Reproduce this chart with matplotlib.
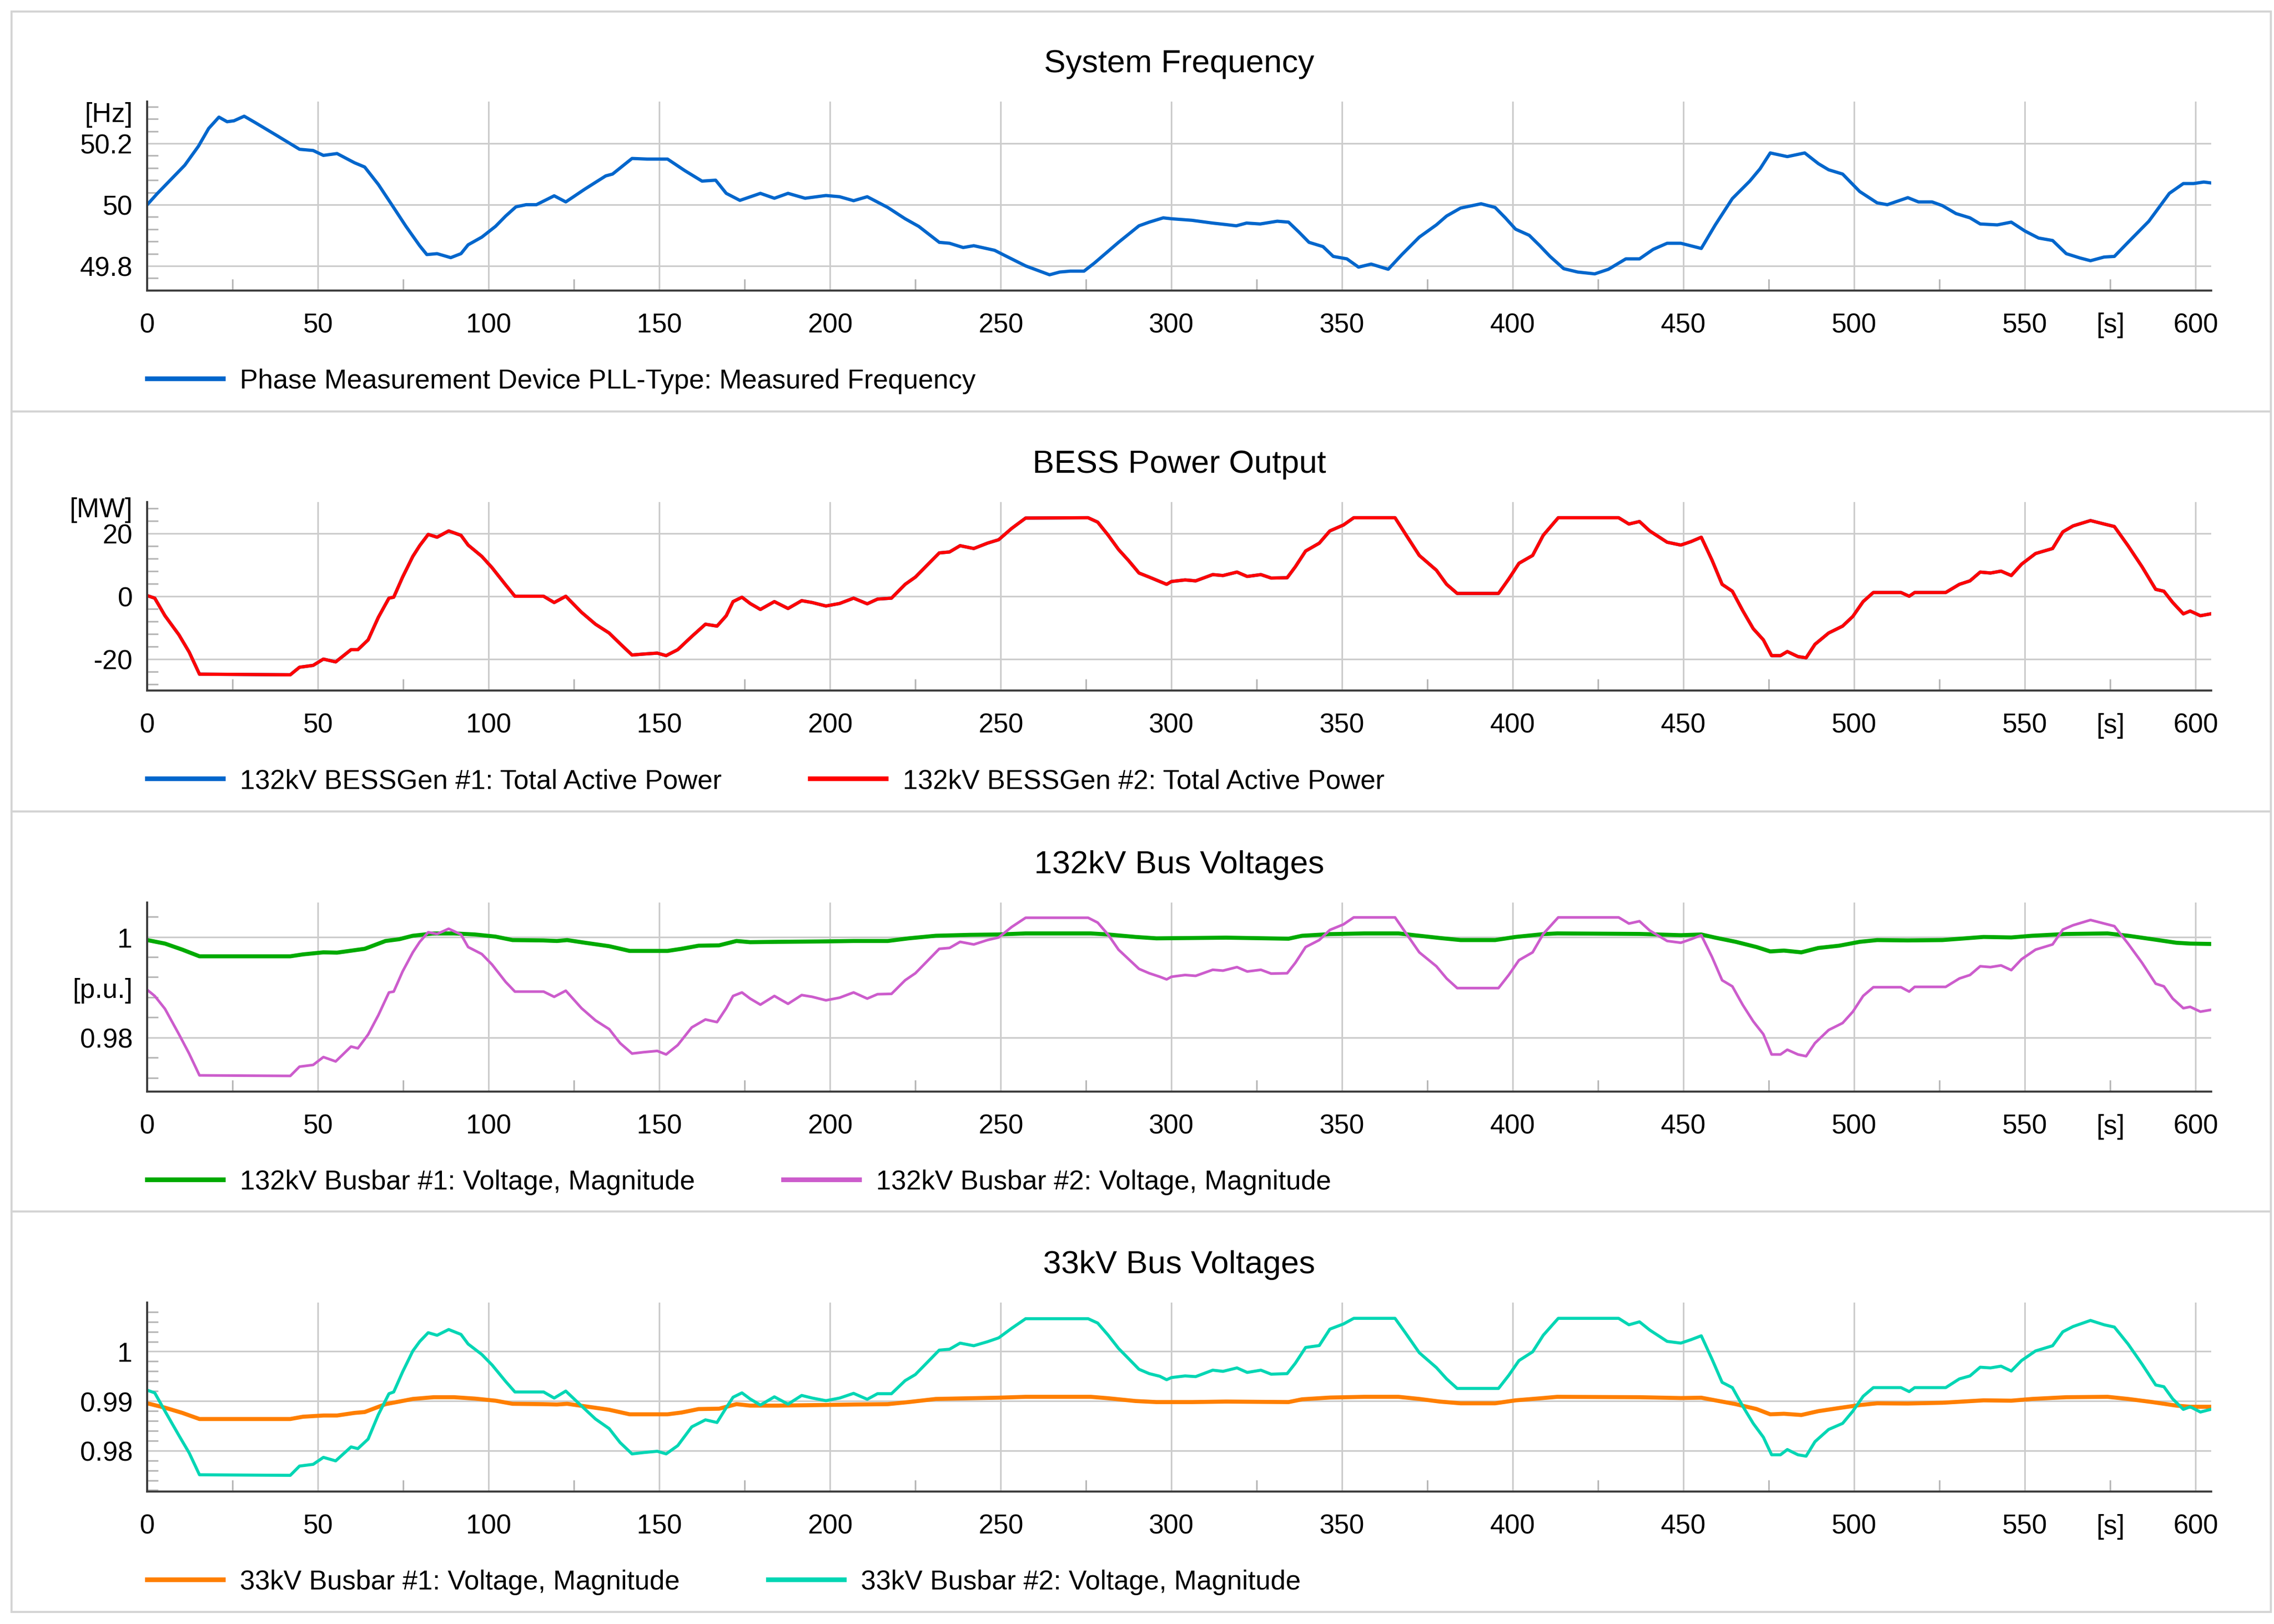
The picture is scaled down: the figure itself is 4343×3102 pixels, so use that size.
import matplotlib
matplotlib.use('Agg')
import matplotlib.pyplot as plt
from matplotlib.ticker import MultipleLocator, FixedLocator, FuncFormatter
from matplotlib.patches import Rectangle

plt.rcParams['font.family'] = ['Liberation Sans', 'DejaVu Sans']

# ---- data ----
# system frequency
t_freq = [0, 3, 7, 11, 15, 18, 21, 23.4, 25.4, 28.4,
          31.5, 37.5, 44.6, 48.6, 51.6, 55.6, 60.7, 63.7, 67.7, 71.8,
          75.8, 79.8, 81.9, 84.9, 88.9, 91.9, 94, 98, 102, 105,
          108, 111, 114, 119.2, 122.6, 128.2, 134.3, 136.3, 142, 146.4,
          152.4, 157.5, 162.5, 166.5, 169.6, 173.6, 179.6, 183.7, 187.7, 192.7,
          198.8, 202.8, 206.9, 210.9, 216.9, 222, 226, 232, 235, 239,
          242.1, 248.2, 251.2, 257.3, 264.3, 267.3, 270.4, 274.4, 277.4, 284.5,
          290.5, 293.5, 297.6, 300, 306, 312, 316, 319, 322, 326,
          331, 334.3, 337.3, 340.3, 344.4, 347.4, 351.4, 354.8, 358.5, 363.5,
          367.5, 372.6, 377.6, 380.6, 384.7, 390.7, 394.8, 397.8, 400.8, 404.8,
          407.9, 410.9, 414.9, 419, 424, 428, 433.1, 437.1, 441.1, 445.2,
          449.2, 455.2, 459.3, 464.3, 469.4, 472.4, 475.4, 480.4, 485.5, 489.5,
          492.5, 496.6, 501.6, 506.7, 509.7, 515.7, 518.8, 522.8, 525.8, 529.8,
          533.9, 536.9, 541.9, 546, 550, 554, 558.1, 562.1, 566.1, 569.2,
          573.2, 576.2, 580.2, 586.3, 592.3, 596.4, 599.4, 602.4, 604.5]
f_hz = [50.0, 50.037, 50.083, 50.129, 50.191, 50.249, 50.286, 50.271, 50.274, 50.289,
        50.269, 50.229, 50.181, 50.177, 50.161, 50.167, 50.137, 50.123, 50.066, 49.997,
        49.929, 49.866, 49.837, 49.84, 49.827, 49.84, 49.869, 49.894, 49.929, 49.963,
        49.993, 50.0, 50.0, 50.029, 50.009, 50.051, 50.094, 50.1, 50.151, 50.149,
        50.149, 50.111, 50.077, 50.08, 50.037, 50.014, 50.037, 50.021, 50.037, 50.021,
        50.03, 50.026, 50.013, 50.026, 49.991, 49.954, 49.929, 49.877, 49.874, 49.86,
        49.866, 49.851, 49.834, 49.8, 49.771, 49.78, 49.783, 49.783, 49.809, 49.877,
        49.931, 49.943, 49.957, 49.954, 49.949, 49.94, 49.935, 49.931, 49.94, 49.937,
        49.946, 49.943, 49.911, 49.877, 49.863, 49.831, 49.823, 49.796, 49.806, 49.789,
        49.837, 49.894, 49.934, 49.963, 49.989, 50.003, 49.991, 49.957, 49.92, 49.9,
        49.866, 49.831, 49.791, 49.78, 49.774, 49.789, 49.823, 49.823, 49.854, 49.874,
        49.874, 49.857, 49.934, 50.02, 50.077, 50.117, 50.169, 50.157, 50.169, 50.134,
        50.114, 50.1, 50.043, 50.006, 50.0, 50.023, 50.009, 50.009, 49.997, 49.971,
        49.957, 49.937, 49.934, 49.943, 49.914, 49.891, 49.883, 49.84, 49.826, 49.817,
        49.829, 49.831, 49.877, 49.946, 50.037, 50.069, 50.069, 50.074, 50.071]

# BESS power and the bus #2 voltages (same time base)
t_bess = [0, 2.2, 5.2, 9.3, 12.3, 15.3, 41.9, 44.6, 48.6, 51.6,
          55.2, 59.7, 61.7, 64.7, 67.7, 70.8, 72.2, 74.8, 77.8, 79.8,
          82.3, 84.9, 88.3, 91.9, 94, 98, 101, 105, 107.7, 116.1,
          119.2, 122.6, 127.2, 131.3, 135.3, 138.5, 142, 145.4, 149.4, 152,
          155.4, 159.5, 163.5, 166.9, 169.6, 171.6, 174.2, 176.6, 179.6, 183.7,
          187.7, 191.7, 194.8, 198.8, 202.8, 206.9, 210.9, 213.9, 218, 222,
          225, 228, 232, 235, 238.1, 242.1, 246.1, 249.4, 253.2, 257.3,
          275.6, 278.4, 281.5, 284.5, 287.5, 290.5, 293.5, 296.6, 298.6, 300,
          304, 307.1, 312.1, 315.1, 319.2, 322.2, 326.2, 329.2, 333.9, 336.3,
          339.3, 343.3, 346.4, 350.4, 353.4, 365.5, 368.5, 372.6, 377.6, 380.6,
          383.7, 395.8, 398.8, 401.8, 405.8, 408.9, 413.3, 431, 434, 437.1,
          440.1, 445.2, 449.2, 452.2, 455.2, 458.3, 461.3, 464.3, 467.3, 470.4,
          473.4, 475.8, 478.4, 480.4, 483.5, 485.9, 488.5, 492.5, 496.6, 499.6,
          502.6, 505.6, 513.7, 516.1, 517.7, 526.8, 530.8, 533.9, 536.9, 539.9,
          543, 546, 549, 553.1, 558.1, 561.1, 564.1, 569.2, 573.2, 576.2,
          580.2, 584.3, 588.3, 590.7, 593.3, 596.4, 598.4, 601.4, 604.4]
p_bess = [0.2, -0.6, -6.2, -12.3, -17.8, -24.8, -25, -22.6, -22, -20,
          -20.9, -17, -17, -13.9, -6.7, -0.6, -0.3, 6.1, 12.7, 16.1,
          19.7, 18.8, 20.8, 19.4, 16.3, 12.7, 9.1, 3.6, 0, 0,
          -2, 0, -5.1, -8.9, -11.7, -15.1, -18.7, -18.4, -18.1, -18.9,
          -17, -12.8, -8.9, -9.5, -6.2, -1.7, -0.3, -2.3, -4.2, -1.7,
          -3.9, -1.4, -2, -3.1, -2.3, -0.6, -2.4, -0.9, -0.6, 3.8,
          6.1, 9.4, 13.8, 14.1, 16.1, 15.2, 16.9, 18, 21.6, 24.9,
          25, 23.6, 19.4, 14.9, 11.3, 7.4, 6.1, 4.7, 3.8, 4.7,
          5.2, 4.9, 6.9, 6.6, 7.7, 6.3, 6.9, 5.8, 5.9, 9.4,
          14.4, 16.9, 20.8, 22.7, 25, 25, 19.9, 13, 8.3, 3.8,
          0.9, 0.9, 5.5, 10.5, 13, 19.4, 25, 25, 23, 23.8,
          20.8, 17.2, 16.3, 17.4, 18.8, 11.6, 3.8, 1.6, -4.5, -10.3,
          -13.9, -18.9, -18.9, -17.6, -19.2, -19.6, -15.3, -11.7, -9.5, -6.4,
          -1.7, 1.2, 1.2, 0, 1.2, 1.2, 3.8, 4.9, 7.7, 7.4,
          8, 6.6, 10.2, 13.6, 15.2, 20.5, 22.4, 24.1, 23, 22.2,
          16.1, 9.4, 2.2, 1.6, -2, -5.6, -4.7, -6.2, -5.6]
v132_bus2 = [0.98948, 0.98826, 0.9857, 0.98063, 0.97677, 0.97247, 0.97236, 0.9742, 0.97455, 0.97611,
             0.97524, 0.9782, 0.97785, 0.98059, 0.98444, 0.98896, 0.98913, 0.99313, 0.99694, 0.9990,
             1.00094, 1.00059, 1.00163, 1.00049, 0.99799, 0.9966, 0.99451, 0.99104, 0.98913, 0.98913,
             0.98809, 0.98931, 0.98583, 0.9834, 0.98167, 0.97889, 0.97681, 0.97708, 0.97733, 0.97663,
             0.9785, 0.98201, 0.98358, 0.98306, 0.98583, 0.98826, 0.98896, 0.98774, 0.98653, 0.98826,
             0.9867, 0.98844, 0.98809, 0.9874, 0.98792, 0.98896, 0.98774, 0.98861, 0.98868, 0.99139,
             0.99278, 0.99486, 0.99764, 0.99781, 0.99903, 0.99851, 0.99938, 0.9999, 1.00198, 1.00382,
             1.00382, 1.00285, 1.00042, 0.99747, 0.99556, 0.99365, 0.99278, 0.99208, 0.99156, 0.99208,
             0.99243, 0.99226, 0.99347, 0.9933, 0.9940, 0.99313, 0.99347, 0.99271, 0.99278, 0.99486,
             0.99799, 0.99938, 1.00139, 1.0025, 1.00389, 1.00389, 1.00094, 0.99694, 0.99417, 0.99174,
             0.98983, 0.98983, 0.99243, 0.99538, 0.99694, 1.00059, 1.00389, 1.00389, 1.00267, 1.00313,
             1.00128, 0.9992, 0.99885, 0.99955, 1.00035, 0.99608, 0.99139, 0.99017, 0.98653, 0.98323,
             0.98063, 0.97663, 0.97663, 0.97757, 0.97663, 0.97628, 0.97889, 0.98149, 0.98288, 0.98514,
             0.98826, 0.99, 0.99, 0.98913, 0.99007, 0.99007, 0.99174, 0.99243, 0.99417, 0.994,
             0.99434, 0.9934, 0.99556, 0.99747, 0.99851, 1.00146, 1.00233, 1.00337, 1.00267, 1.00215,
             0.99868, 0.99486, 0.9907, 0.99017, 0.98774, 0.98583, 0.9861, 0.98514, 0.98549]
v33_bus2 = [0.99218, 0.99165, 0.98796, 0.98303, 0.97951, 0.97511, 0.975, 0.97687, 0.97722, 0.97863,
            0.97792, 0.98074, 0.98039, 0.98232, 0.98725, 0.99148, 0.99183, 0.99588, 1.00011, 1.0020,
            1.0038, 1.00327, 1.00444, 1.00345, 1.00151, 0.9994, 0.99729, 0.99394, 0.99183, 0.99183,
            0.9906, 0.99201, 0.98901, 0.98637, 0.98444, 0.98162, 0.97933, 0.9796, 0.97986, 0.97933,
            0.9810, 0.98479, 0.9862, 0.98567, 0.98866, 0.99077, 0.99165, 0.99042, 0.98919, 0.99085,
            0.98937, 0.99113, 0.9906, 0.99007, 0.9906, 0.99155, 0.99035, 0.99148, 0.99148, 0.99412,
            0.99535, 0.99746, 1.00028, 1.00046, 1.00169, 1.00116, 1.00197, 1.00275, 1.00468, 1.00662,
            1.00662, 1.00574, 1.00327, 1.00063, 0.99852, 0.99641, 0.99553, 0.995, 0.9943, 0.99474,
            0.99507, 0.99493, 0.99623, 0.99599, 0.99669, 0.99577, 0.99623, 0.99542, 0.99553, 0.99764,
            1.00081, 1.0012, 1.00451, 1.00556, 1.00669, 1.00669, 1.0038, 0.99975, 0.99676, 0.99447,
            0.99254, 0.99254, 0.99518, 0.99817, 0.99993, 1.00327, 1.00669, 1.00669, 1.00539, 1.00599,
            1.00433, 1.00204, 1.00169, 1.00239, 1.00317, 0.99852, 0.99377, 0.99271, 0.98901, 0.98549,
            0.98268, 0.97915, 0.97915, 0.98021, 0.97915, 0.97887, 0.9818, 0.98426, 0.98549, 0.98796,
            0.99095, 0.99271, 0.99271, 0.9919, 0.99271, 0.99271, 0.99447, 0.99507, 0.99683, 0.99669,
            0.99704, 0.99606, 0.99817, 1.00011, 1.00116, 1.00398, 1.00504, 1.00627, 1.00539, 1.00493,
            1.00151, 0.99746, 0.99324, 0.99289, 0.99042, 0.98831, 0.98884, 0.98778, 0.98831]

# bus #1 voltages
t_bus1 = [0, 5.2, 10.3, 15.3, 41.9, 45.6, 51.6, 55.6, 60.7, 63.7,
          69.8, 73.8, 77.8, 83.9, 89.9, 96, 102, 107, 116, 120,
          123, 128.2, 135.3, 141.3, 152.4, 156.5, 161.5, 167.5, 172.6, 176.6,
          184.7, 196.8, 206.9, 216.9, 223, 231, 241, 249.2, 257.3, 276.4,
          281.5, 289.5, 295.6, 306, 316, 334.3, 338.3, 346.4, 356.5, 366.5,
          372.6, 378.6, 384.7, 394.8, 400.8, 408.9, 413, 437.1, 449.2, 455.2,
          459.3, 465.3, 471.4, 475.4, 479.4, 484.5, 489.5, 495.6, 501.6, 506.7,
          515.7, 525.8, 537.9, 546, 552.1, 562.1, 574.2, 580.2, 587.3, 594.3,
          598.4, 604.4]
v132_bus1 = [0.99938, 0.99868, 0.99747, 0.99615, 0.99615, 0.99653, 0.99694, 0.99688, 0.99736, 0.99764,
             0.9992, 0.99955, 1.00024, 1.00069, 1.0007, 1.00049, 1.00007, 0.99938, 0.99931, 0.9992,
             0.99938, 0.99885, 0.99816, 0.99722, 0.99722, 0.99764, 0.99826, 0.99833, 0.9992, 0.99896,
             0.99903, 0.9991, 0.9992, 0.9992, 0.99972, 1.00024, 1.00042, 1.00049, 1.0007, 1.0007,
             1.00049, 1.0, 0.99972, 0.99979, 0.99986, 0.99965, 1.00024, 1.00056, 1.0007, 1.0007,
             1.00024, 0.99979, 0.99938, 0.99938, 1.0, 1.00056, 1.0007, 1.0006, 1.00035, 1.00049,
             0.99986, 0.99903, 0.99799, 0.99712, 0.99729, 0.99694, 0.99781, 0.99826, 0.99903, 0.99938,
             0.99931, 0.99938, 1.0, 0.9999, 1.00024, 1.00059, 1.0007, 1.00024, 0.99955, 0.99885,
             0.99868, 0.99861]
v33_bus1 = [0.98954, 0.98866, 0.9876, 0.98637, 0.98637, 0.98683, 0.98708, 0.98708, 0.9876, 0.98778,
            0.98937, 0.98989, 0.99042, 0.99077, 0.99077, 0.99049, 0.99007, 0.98944, 0.98937, 0.9893,
            0.98944, 0.98894, 0.98824, 0.98732, 0.98732, 0.98768, 0.98838, 0.98845, 0.98937, 0.98908,
            0.98908, 0.98919, 0.9893, 0.98937, 0.98979, 0.99042, 0.99056, 0.99067, 0.99085, 0.99085,
            0.99056, 0.99, 0.98979, 0.98979, 0.98989, 0.98979, 0.99035, 0.9907, 0.99085, 0.99085,
            0.99042, 0.98989, 0.98954, 0.98954, 0.99014, 0.9906, 0.99085, 0.99077, 0.9906, 0.99067,
            0.99014, 0.98937, 0.98838, 0.98732, 0.98743, 0.98718, 0.98796, 0.98859, 0.98919, 0.98954,
            0.9895, 0.98965, 0.99014, 0.99007, 0.99042, 0.99077, 0.99085, 0.99042, 0.98979, 0.98908,
            0.98884, 0.98884]

# ---- layout (units: 1/100 inch, figure is 1560 x 1114.6) ----
W, H = 1560.0, 1114.58
fig = plt.figure(figsize=(W / 100, H / 100), dpi=278.4)


def fx(x):
    return x / W


def fy(y):
    return 1.0 - y / H


FS = 13.4
AX_L, AX_R = 101.0, 1517.0

panels = [
    dict(title='System Frequency', top=70.0, bottom=199.6,
         ylim=(49.72, 50.337), major=0.2, minor=0.04, unit='[Hz]', unit_y=50.305,
         series=[(t_freq, f_hz, '#0066cc', 1.6,
                  'Phase Measurement Device PLL-Type: Measured Frequency')]),
    dict(title='BESS Power Output', top=344.8, bottom=474.1,
         ylim=(-30, 30), major=20, minor=4, unit='[MW]', unit_y=28.5,
         series=[(t_bess, p_bess, '#0066cc', 1.6, '132kV BESSGen #1: Total Active Power'),
                 (t_bess, p_bess, '#ff0000', 1.6, '132kV BESSGen #2: Total Active Power')]),
    dict(title='132kV Bus Voltages', top=619.6, bottom=749.2,
         ylim=(0.96927, 1.00684), major=0.02, minor=0.004, unit='[p.u.]', unit_y=0.99,
         series=[(t_bus1, v132_bus1, '#00aa00', 2.0, '132kV Busbar #1: Voltage, Magnitude'),
                 (t_bess, v132_bus2, '#cc5ccc', 1.3, '132kV Busbar #2: Voltage, Magnitude')]),
    dict(title='33kV Bus Voltages', top=894.1, bottom=1023.7,
         ylim=(0.97173, 1.00986), major=0.01, minor=0.002, unit=None, unit_y=None,
         series=[(t_bus1, v33_bus1, '#ff7f00', 2.0, '33kV Busbar #1: Voltage, Magnitude'),
                 (t_bess, v33_bus2, '#00d6b4', 1.5, '33kV Busbar #2: Voltage, Magnitude')]),
]

for i, p in enumerate(panels):
    # light frame around each panel
    box_top = 8.2 + 274.5 * i
    fig.add_artist(Rectangle((fx(8), fy(box_top + 274.5)), fx(1550), 274.5 / H,
                             transform=fig.transFigure, fill=False, ec='#d4d4d4', lw=1.0))

    ax = fig.add_axes([fx(AX_L), fy(p['bottom']), fx(AX_R - AX_L), (p['bottom'] - p['top']) / H])
    lines = []
    for t, v, c, lw, lab in p['series']:
        ln, = ax.plot(t, v, color=c, lw=lw, label=lab, solid_joinstyle='round')
        lines.append(ln)

    ax.set_xlim(0, 604.6)
    ax.set_ylim(*p['ylim'])
    ax.xaxis.set_major_locator(MultipleLocator(50))
    ax.xaxis.set_minor_locator(FixedLocator([25 + 50 * k for k in range(12)]))
    ax.xaxis.set_major_formatter(FuncFormatter(lambda v, pos: f'{v:g}'))
    ax.xaxis.set_minor_formatter(FuncFormatter(lambda v, pos: '[s]' if abs(v - 575) < 1 else ''))
    ax.yaxis.set_major_locator(MultipleLocator(p['major']))
    ax.yaxis.set_minor_locator(MultipleLocator(p['minor']))
    ax.yaxis.set_major_formatter(FuncFormatter(lambda v, pos: f'{round(v, 6):g}'))

    ax.tick_params(which='major', length=0, labelsize=FS, colors='#000000')
    ax.tick_params(axis='x', which='both', pad=10.8, labelsize=FS)
    ax.tick_params(axis='x', which='minor', direction='in', length=5.8, width=0.8, color='#b8b8b8')
    ax.tick_params(axis='y', which='major', pad=7.2)
    ax.tick_params(axis='y', which='minor', direction='in', length=5.4, width=0.8, color='#b8b8b8')

    ax.grid(True, which='major', color='#cccccc', lw=0.8)
    ax.set_axisbelow(True)
    for s in ('top', 'right'):
        ax.spines[s].set_visible(False)
    for s in ('left', 'bottom'):
        ax.spines[s].set_color('#3c3c3c')
        ax.spines[s].set_linewidth(1.0)

    if p['unit']:
        ax.annotate(p['unit'], xy=(0, p['unit_y']), xycoords=('axes fraction', 'data'),
                    xytext=(-7.2, 0), textcoords='offset points',
                    ha='right', va='center_baseline', fontsize=FS)

    fig.text(fx((AX_L + AX_R) / 2), fy(p['top'] - 26), p['title'],
             ha='center', va='center', fontsize=16)

    leg = fig.legend(handles=lines, loc='center left',
                     bbox_to_anchor=(fx(AX_L), fy(p['bottom'] + 62)),
                     ncol=2, frameon=False, fontsize=FS, borderpad=0, borderaxespad=0,
                     handlelength=2.8, handletextpad=0.62, columnspacing=3.25)
    for h in leg.get_lines():
        h.set_linewidth(2.3)

fig.savefig('out.png', dpi=278.4)
